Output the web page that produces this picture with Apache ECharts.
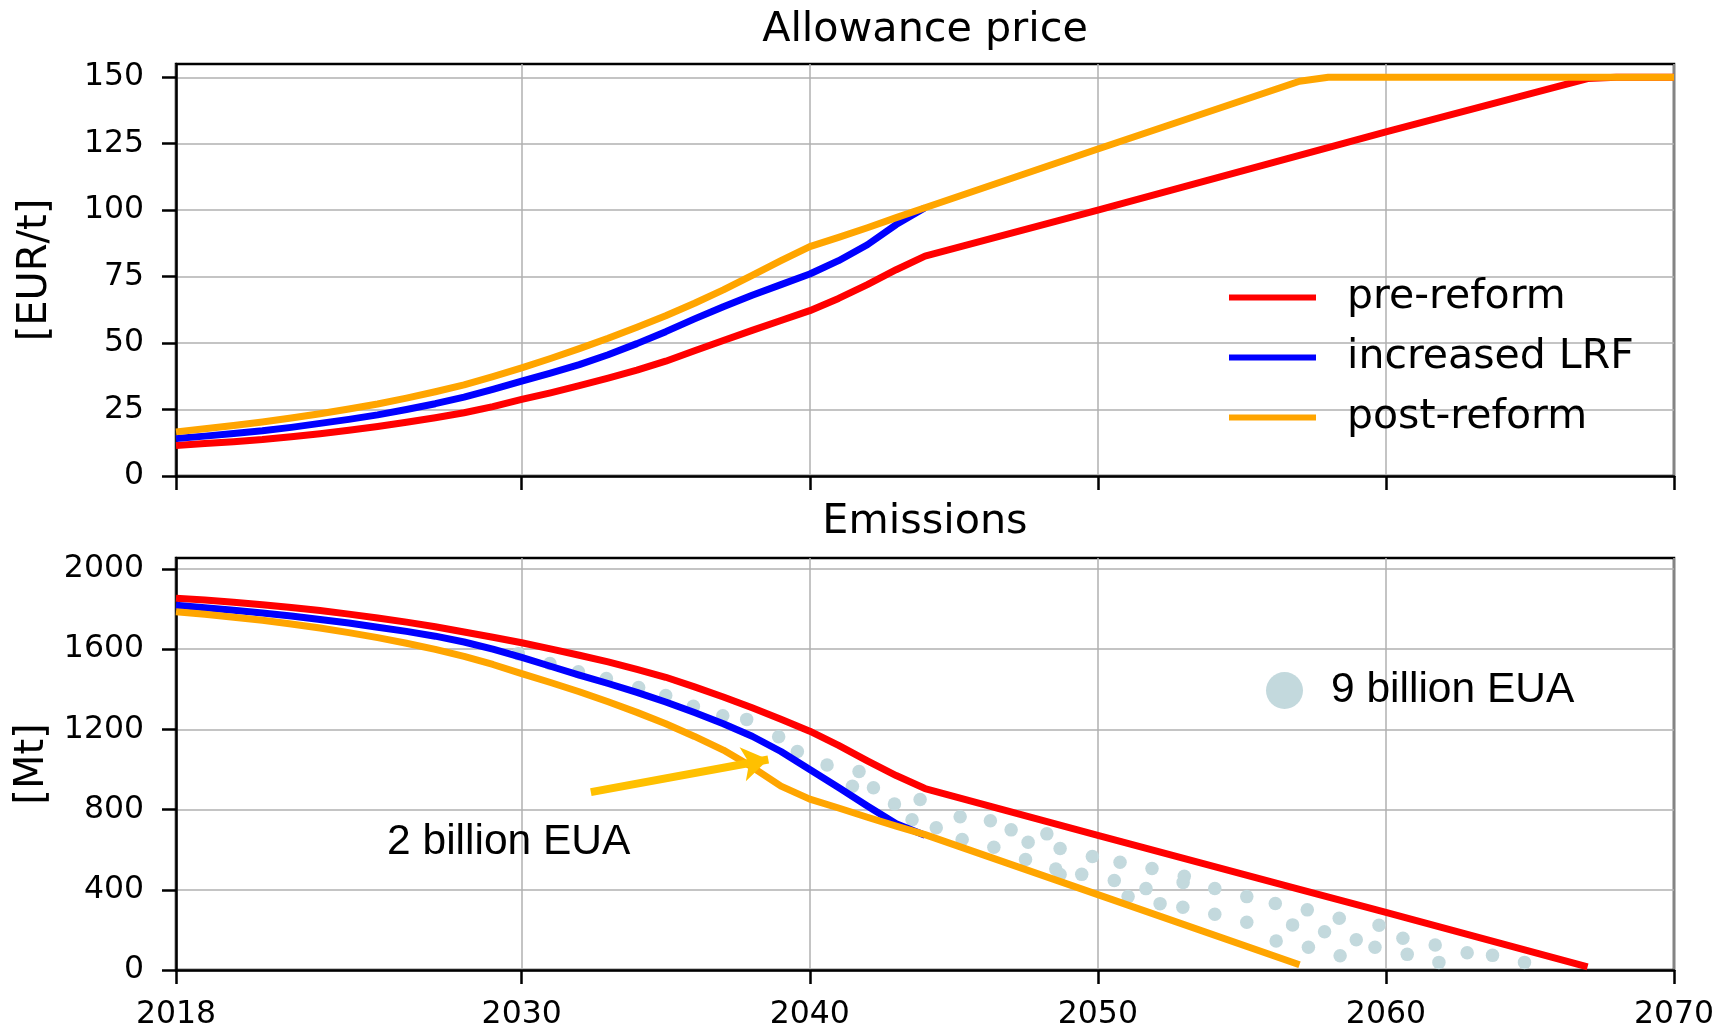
<!DOCTYPE html>
<html>
<head>
<meta charset="utf-8">
<script src="https://cdn.jsdelivr.net/npm/echarts@6/dist/echarts.min.js"></script>
<style>html,body{margin:0;padding:0;background:#fff}#c{width:1721px;height:1031px}</style>
</head>
<body>
<div id="c"></div>
<script>
// ---- data ----
const xTicks = [2018, 2030, 2040, 2050, 2060, 2070];
const priceTicks = [0, 25, 50, 75, 100, 125, 150];
const emisTicks = [0, 400, 800, 1200, 1600, 2000];

const priceYears = [2018,2019,2020,2021,2022,2023,2024,2025,2026,2027,2028,2029,2030,2031,2032,2033,2034,2035,2036,2037,2038,2039,2040,2041,2042,2043,2044];
const pricePre  = [11.5,12.2,12.9,13.7,14.8,15.9,17.2,18.6,20.2,21.9,23.8,26.1,28.8,31.3,34.0,36.8,39.8,43.2,47.1,51.0,54.8,58.5,62.2,66.8,72.0,77.6,82.7];
const pricePreTailYears = [2050, 2060, 2067, 2068, 2070];
const pricePreTail      = [100.0, 129.5, 149.5, 150, 150];
const priceLrf  = [14.1,15.0,16.0,17.0,18.3,19.8,21.3,23.0,25.0,27.2,29.7,32.6,35.7,38.7,41.9,45.6,49.8,54.3,59.1,63.7,68.0,72.0,76.0,81.0,87.0,94.6,100.9];
const pricePost = [16.6,17.8,19.0,20.3,21.8,23.4,25.2,27.1,29.3,31.7,34.3,37.4,40.7,44.2,47.9,51.8,56.0,60.3,65.0,70.0,75.5,81.0,86.3,89.8,93.4,97.2,100.9];
const pricePostTailYears = [2050, 2057, 2058, 2070];
const pricePostTail      = [123.0, 148.5, 150, 150];

const emisYears = [2018,2019,2020,2021,2022,2023,2024,2025,2026,2027,2028,2029,2030,2031,2032,2033,2034,2035,2036,2037,2038,2039,2040,2041,2042,2043,2044];
const emisPre  = [1854,1845,1834,1822,1808,1793,1775,1756,1735,1712,1686,1660,1632,1602,1570,1537,1500,1460,1412,1362,1308,1251,1191,1120,1043,970,905];
const emisPreTailYears = [2050, 2057, 2060, 2067];
const emisPreTail      = [672, 402, 288, 15];
const emisLrf  = [1819,1807,1794,1781,1766,1748,1731,1710,1689,1665,1636,1600,1559,1515,1471,1429,1385,1337,1284,1228,1166,1090,1000,910,818,730,672];
const emisPost = [1787,1774,1760,1744,1726,1706,1683,1658,1630,1599,1564,1524,1478,1434,1388,1338,1285,1228,1165,1097,1012,917,852,808,762,718,675];
const emisPostTailYears = [2050, 2057];
const emisPostTail      = [376, 26];

// dots (9 billion EUA)
const dotYears  = [2029.88,2030.98,2031.97,2032.94,2034.06,2035.0,2035.96,2036.98,2037.81,2038.92,2039.57,2040.6,2041.71,2041.48,2042.21,2042.94,2043.83,2043.55,2044.39,2045.22,2045.29,
  2046.27,2046.99,2046.39,2047.58,2048.23,2047.49,2048.69,2048.54,2048.69,2049.44,2049.81,2050.77,2050.57,2051.05,2051.88,2051.67,2052.16,2053.0,2052.96,2052.95,2054.06,2054.06,2055.17,2055.17,2056.16,2056.19,2056.76,
  2057.27,2058.38,2057.87,2057.31,2059.76,2058.97,2059.62,2058.41,2060.59,2060.74,2061.71,2061.84,2062.82,2063.70,2064.81];
const dotValues = [1578,1529,1488,1454,1409,1369,1315,1268,1250,1163,1090,1023,990,917,909,828,850,749,710,764,651,
  744,699,612,637,679,551,606,504,476,477,566,537,446,366,506,406,331,467,437,313,407,278,366,238,332,145,225,
  300,258,191,113,223,151,113,71,158,78,125,38,86,73,38];

// annotations
const arrowFrom = [2032.4, 887];
const arrowTo   = [2038.56, 1050];
const note2Pos  = [2029.55, 635];
const note2Text = '2 billion EUA';

function pairs(xs, ys, xs2, ys2) {
  const out = xs.map((x, i) => [x, ys[i]]);
  if (xs2) xs2.forEach((x, i) => out.push([x, ys2[i]]));
  return out;
}

const FONT = 'DejaVu Sans';
const RED = '#ff0000', BLUE = '#0000ff', ORANGE = '#ffa500', DOT = '#c3d9dd';
const LW = 7;

function xAxisCfg(idx, showLabels) {
  return {
    type: 'value', gridIndex: idx, min: 2018, max: 2070,
    axisLine: { show: true, lineStyle: { color: '#000', width: 2.5 } },
    axisTick: { show: true, customValues: xTicks, length: 14, lineStyle: { color: '#000', width: 2.5 } },
    axisLabel: { show: showLabels, customValues: xTicks, fontFamily: FONT, fontSize: 31.5, color: '#000', margin: 29,
      formatter: v => String(v) },
    splitLine: { show: true, lineStyle: { color: '#b0b0b0', width: 1.5 } }
  };
}
function yAxisCfg(idx, max, ticks, name) {
  return {
    type: 'value', gridIndex: idx, min: 0, max: max,
    name: name, nameLocation: 'middle', nameGap: 120, nameRotate: 90,
    nameTextStyle: { fontFamily: FONT, fontSize: 40, color: '#000' },
    axisLine: { show: true, lineStyle: { color: '#000', width: 2.5 } },
    axisTick: { show: true, customValues: ticks, length: 14, lineStyle: { color: '#000', width: 2.5 } },
    axisLabel: { customValues: ticks, fontFamily: FONT, fontSize: 31.5, color: '#000', margin: 32,
      formatter: v => String(v) },
    splitLine: { show: true, lineStyle: { color: '#b0b0b0', width: 1.5 } }
  };
}
function lineSeries(name, color, data, idx) {
  return {
    type: 'line', name: name, xAxisIndex: idx, yAxisIndex: idx, data: data,
    showSymbol: false, symbol: 'none', smooth: false, sampling: null,
    lineStyle: { color: color, width: LW, opacity: 1, join: 'round', cap: 'butt' },
    itemStyle: { color: color }, z: 3,
    emphasis: { disabled: true }
  };
}

const chart = echarts.init(document.getElementById('c'), null, { renderer: 'canvas' });
chart.setOption({
  animation: false,
  backgroundColor: '#fff',
  title: [
    { text: 'Allowance price', left: 920, top: 5, textAlign: 'center',
      textStyle: { fontFamily: FONT, fontSize: 41.3, fontWeight: 'normal', color: '#000' } },
    { text: 'Emissions', left: 920, top: 497, textAlign: 'center',
      textStyle: { fontFamily: FONT, fontSize: 41.3, fontWeight: 'normal', color: '#000' } }
  ],
  grid: [
    { left: 176, right: 47, top: 64, height: 412, show: true, borderColor: '#000', borderWidth: 2.5, backgroundColor: 'transparent' },
    { left: 176, right: 47, top: 558, height: 412, show: true, borderColor: '#000', borderWidth: 2.5, backgroundColor: 'transparent' }
  ],
  xAxis: [xAxisCfg(0, false), xAxisCfg(1, true)],
  yAxis: [yAxisCfg(0, 155, priceTicks, '[EUR/t]'), yAxisCfg(1, 2055, emisTicks, '[Mt]')],
  legend: [
    { data: [
        { name: 'pre-reform', icon: 'rect', itemStyle: { color: RED } },
        { name: 'increased LRF', icon: 'rect', itemStyle: { color: BLUE } },
        { name: 'post-reform', icon: 'rect', itemStyle: { color: ORANGE } }
      ],
      orient: 'vertical', left: 1224, top: 272,
      itemWidth: 87, itemHeight: 6, itemGap: 19,
      textStyle: { fontFamily: FONT, fontSize: 41, color: '#000', padding: [0, 0, 0, 26] } },
    { data: [{ name: '9 billion EUA', icon: 'circle' }], left: 1261, top: 664,
      itemWidth: 37, itemHeight: 37,
      textStyle: { fontFamily: 'Liberation Sans', fontSize: 42.5, color: '#000', padding: [0, 0, 0, 23] } }
  ],
  series: [
    lineSeries('pre-reform', RED, pairs(priceYears, pricePre, pricePreTailYears, pricePreTail), 0),
    lineSeries('increased LRF', BLUE, pairs(priceYears, priceLrf), 0),
    lineSeries('post-reform', ORANGE, pairs(priceYears, pricePost, pricePostTailYears, pricePostTail), 0),
    {
      type: 'scatter', name: '9 billion EUA', xAxisIndex: 1, yAxisIndex: 1,
      data: pairs(dotYears, dotValues), symbolSize: 13.5,
      itemStyle: { color: DOT, opacity: 1 }, z: 2, emphasis: { disabled: true }
    },
    lineSeries('pre-reform', RED, pairs(emisYears, emisPre, emisPreTailYears, emisPreTail), 1),
    lineSeries('increased LRF', BLUE, pairs(emisYears, emisLrf), 1),
    lineSeries('post-reform', ORANGE, pairs(emisYears, emisPost, emisPostTailYears, emisPostTail), 1),
    {
      type: 'lines', coordinateSystem: 'cartesian2d', xAxisIndex: 1, yAxisIndex: 1, z: 5,
      symbol: ['none', 'arrow'], symbolSize: 26,
      lineStyle: { color: '#ffc000', width: 8, opacity: 1 },
      data: [{ coords: [arrowFrom, arrowTo] }]
    }
  ]
});

// annotation text placed through the chart's own coordinate conversion
const p = chart.convertToPixel({ xAxisIndex: 1, yAxisIndex: 1 }, note2Pos);
chart.setOption({
  graphic: [{
    type: 'text', x: p[0], y: p[1], z: 10,
    style: { text: note2Text, fontFamily: 'Liberation Sans', fontSize: 42.5, fill: '#000',
      align: 'center', verticalAlign: 'middle' }
  }]
});
</script>
</body>
</html>
